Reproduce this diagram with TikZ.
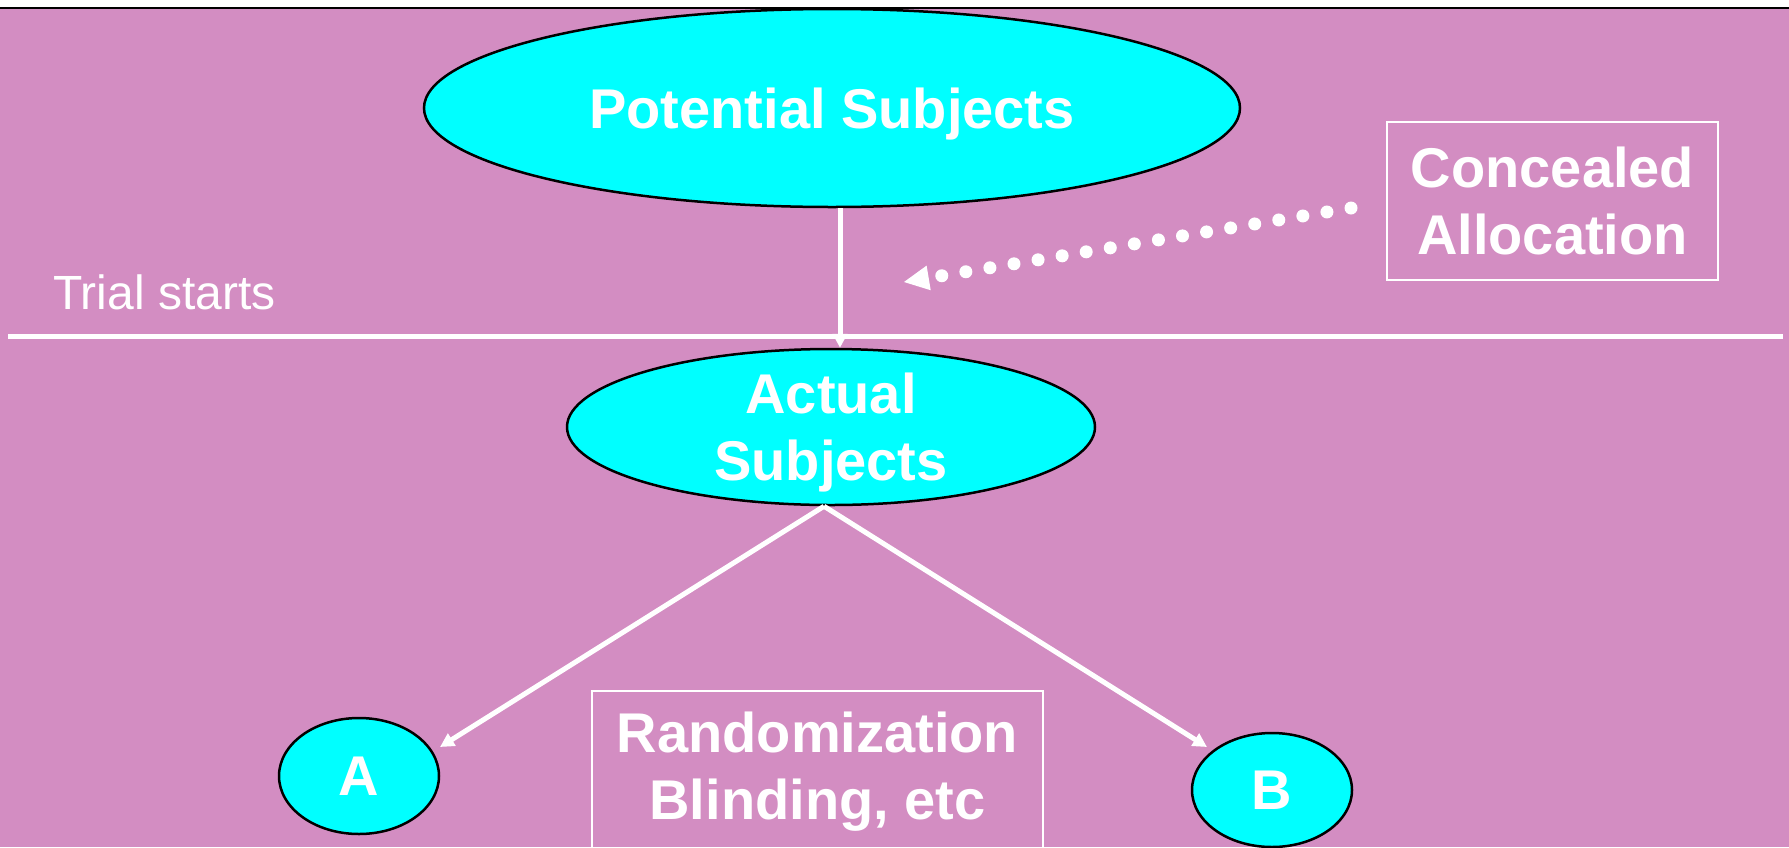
\documentclass[tikz,border=0pt]{standalone}
\usepackage{fontspec}
\setmainfont{Liberation Sans}
\usetikzlibrary{shapes.geometric,arrows.meta,calc}

\definecolor{slidepink}{RGB}{211,141,194}
\definecolor{subjcyan}{RGB}{0,255,255}

\newcommand\bigbold{\fontsize{56}{67}\selectfont\bfseries}

\tikzset{
  subject/.style={ellipse, draw=black, line width=2.5pt, fill=subjcyan,
    text=white, inner sep=0pt, font=\bigbold, align=center, text depth=0pt},
  notebox/.style={rectangle, draw=white, line width=2pt, text=white,
    font=\bigbold, align=center, inner sep=0pt},
  flow/.style={white, line width=5pt, -{Triangle[length=14pt,width=14pt]}},
  hint/.style={white, line width=13pt, line cap=round,
    dash pattern=on 0pt off 24.4pt,
    -{Triangle[length=25pt,width=25pt,line width=0pt]}},
}

\begin{document}
\begin{tikzpicture}[x=1pt,y=-1pt]
  \useasboundingbox (0,0) rectangle (1789,847);
  % slide background with its top rule
  \fill[white] (0,0) rectangle (1789,847);
  \fill[slidepink] (0,8) rectangle (1789,847);
  \draw[black, line width=2pt] (0,8) -- (1789,8);

  % start-of-trial divider
  \coordinate (ruleL) at (8,336);
  \coordinate (ruleR) at (1783,336);
  \draw[white, line width=5pt] (ruleL) -- (ruleR);
  \node[anchor=base west, inner sep=0pt, text=white,
        font=\fontsize{48}{58}\selectfont] (trial) at (53,309) {Trial starts};

  % subject groups
  \node[subject, minimum width=816pt, minimum height=198pt]
    (pot) at (832,108) {Potential Subjects};
  \node[subject, minimum width=528pt, minimum height=156pt]
    (act) at (831,427) {Actual\\Subjects};
  \node[subject, minimum width=160pt, minimum height=116pt]
    (armA) at (359,776) {A};
  \node[subject, minimum width=160pt, minimum height=114pt]
    (armB) at (1272,790) {B};

  % notes
  \node[notebox, minimum width=331pt, minimum height=158pt]
    (conceal) at (1552.5,201) {Concealed\\Allocation};
  \node[notebox, minimum width=451pt, minimum height=161pt]
    (rand) at (817.5,771.5) {Randomization\\Blinding, etc};

  % flow of subjects
  \draw[flow] ([xshift=8pt]pot.south) -- ([xshift=9pt]act.north);
  \draw[flow] ([xshift=-7pt]act.south) -- ([shift={(81,-29)}]armA.center);
  \draw[flow] ([xshift=-7pt]act.south) -- ([shift={(-65,-43)}]armB.center);

  % concealed allocation points at the entry
  \coordinate (aim) at (904,282);
  \draw[hint] ([shift={(-35,7)}]conceal.west) -- (aim);
\end{tikzpicture}
\end{document}
